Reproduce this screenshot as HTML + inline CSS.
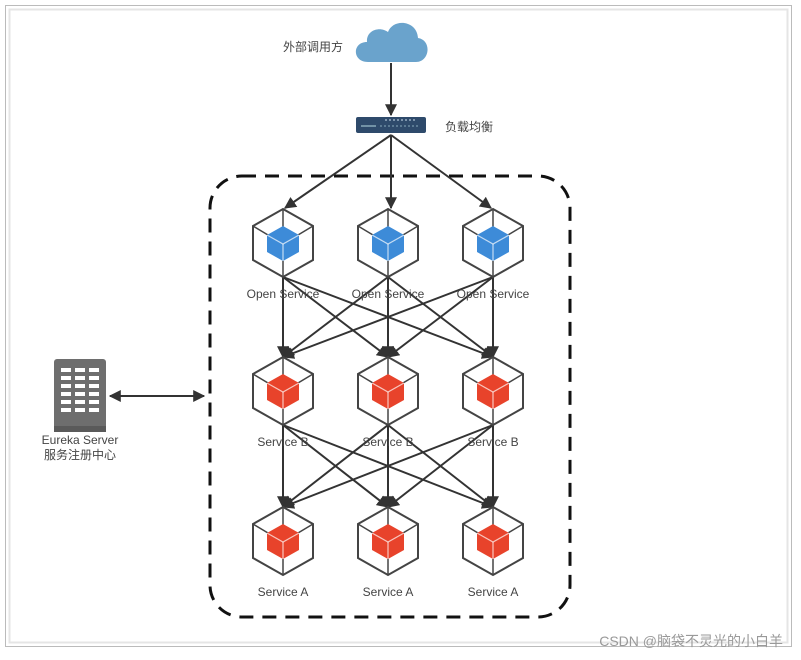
<!DOCTYPE html>
<html><head><meta charset="utf-8"><style>
html,body{margin:0;padding:0;background:#fff;width:801px;height:660px;overflow:hidden}
text{font-family:"Liberation Sans","Noto Sans CJK SC",sans-serif;fill:#444}
</style></head><body>
<svg width="801" height="660" viewBox="0 0 801 660" xmlns="http://www.w3.org/2000/svg">
<defs>
<marker id="ar" viewBox="0 0 10 10" refX="9" refY="5" markerWidth="12" markerHeight="12" markerUnits="userSpaceOnUse" orient="auto-start-reverse">
<path d="M0,0 L10,5 L0,10 z" fill="#333"/></marker>
<g id="hex">
<polygon points="0,-34 30,-17 30,17 0,34 -30,17 -30,-17" fill="#fff" stroke="#444" stroke-width="2"/>
<line x1="0" y1="-34" x2="0" y2="-15" stroke="#444" stroke-width="1.5"/>
<line x1="30" y1="-17" x2="15" y2="-8" stroke="#444" stroke-width="1.5"/>
<line x1="-30" y1="-17" x2="-15" y2="-8" stroke="#444" stroke-width="1.5"/>
<line x1="0" y1="34" x2="0" y2="15" stroke="#444" stroke-width="1.5"/>
</g>
<g id="cube">
<polygon points="0,-17 16,-8 16,9 0,18 -16,9 -16,-8"/>
<polyline points="-16,-8 0,1 16,-8" fill="none" stroke="#fff" stroke-width="1.2" stroke-opacity=".7"/>
<line x1="0" y1="1" x2="0" y2="18" stroke="#fff" stroke-width="1.2" stroke-opacity=".7"/>
</g>
</defs>
<rect x="5.5" y="5.5" width="786" height="641" fill="#fff" stroke="#bbb"/>
<rect x="9.5" y="9.5" width="778" height="633" fill="none" stroke="#e5e5e5" stroke-width="2"/>
<rect x="210" y="176" width="360" height="441" rx="32" fill="none" stroke="#111" stroke-width="3" stroke-dasharray="14,9"/>
<path d="M368,62 C352,62 352,42 367,42 C366,30 380,26 388,32 C393,18 417,20 418,38 C432,40 430,62 416,62 Z" fill="#6aa3cc"/>
<text x="283" y="51" font-size="12" fill="#333">外部调用方</text>
<line x1="391" y1="63" x2="391" y2="115" stroke="#333" stroke-width="2" marker-end="url(#ar)"/>
<rect x="356" y="117" width="70" height="16" rx="2" fill="#2e4a6b"/>
<line x1="361" y1="126" x2="376" y2="126" stroke="#8ab" stroke-width="1.5"/>
<line x1="380" y1="126" x2="420" y2="126" stroke="#8ab" stroke-width="1" stroke-dasharray="2,2"/>
<line x1="385" y1="120" x2="415" y2="120" stroke="#cde" stroke-width="1" stroke-dasharray="2,2"/>
<text x="445" y="131" font-size="12" fill="#333">负载均衡</text>
<g stroke="#333" stroke-width="2" marker-end="url(#ar)">
<line x1="391" y1="135" x2="285" y2="208"/>
<line x1="391" y1="135" x2="391" y2="208"/>
<line x1="391" y1="135" x2="491" y2="208"/>
</g>
<g stroke="#333" stroke-width="2" marker-end="url(#ar)">
<line x1="283" y1="277" x2="283" y2="357"/><line x1="283" y1="277" x2="388" y2="357"/><line x1="283" y1="277" x2="493" y2="357"/>
<line x1="388" y1="277" x2="283" y2="357"/><line x1="388" y1="277" x2="388" y2="357"/><line x1="388" y1="277" x2="493" y2="357"/>
<line x1="493" y1="277" x2="283" y2="357"/><line x1="493" y1="277" x2="388" y2="357"/><line x1="493" y1="277" x2="493" y2="357"/>
<line x1="283" y1="425" x2="283" y2="507"/><line x1="283" y1="425" x2="388" y2="507"/><line x1="283" y1="425" x2="493" y2="507"/>
<line x1="388" y1="425" x2="283" y2="507"/><line x1="388" y1="425" x2="388" y2="507"/><line x1="388" y1="425" x2="493" y2="507"/>
<line x1="493" y1="425" x2="283" y2="507"/><line x1="493" y1="425" x2="388" y2="507"/><line x1="493" y1="425" x2="493" y2="507"/>
</g>
<g transform="translate(283,243)"><use href="#hex"/><use href="#cube" fill="#3d8bd8"/></g>
<g transform="translate(388,243)"><use href="#hex"/><use href="#cube" fill="#3d8bd8"/></g>
<g transform="translate(493,243)"><use href="#hex"/><use href="#cube" fill="#3d8bd8"/></g>
<g transform="translate(283,391)"><use href="#hex"/><use href="#cube" fill="#e8432b"/></g>
<g transform="translate(388,391)"><use href="#hex"/><use href="#cube" fill="#e8432b"/></g>
<g transform="translate(493,391)"><use href="#hex"/><use href="#cube" fill="#e8432b"/></g>
<g transform="translate(283,541)"><use href="#hex"/><use href="#cube" fill="#e8432b"/></g>
<g transform="translate(388,541)"><use href="#hex"/><use href="#cube" fill="#e8432b"/></g>
<g transform="translate(493,541)"><use href="#hex"/><use href="#cube" fill="#e8432b"/></g>
<g font-size="12" text-anchor="middle">
<text x="283" y="298">Open Service</text><text x="388" y="298">Open Service</text><text x="493" y="298">Open Service</text>
<text x="283" y="446">Service B</text><text x="388" y="446">Service B</text><text x="493" y="446">Service B</text>
<text x="283" y="596">Service A</text><text x="388" y="596">Service A</text><text x="493" y="596">Service A</text>
</g>
<rect x="54" y="359" width="52" height="73" rx="3" fill="#6e6e6e"/>
<rect x="54" y="426" width="52" height="6" fill="#5a5a5a"/>
<g fill="#fff">
<rect x="61" y="368" width="10" height="4"/><rect x="75" y="368" width="10" height="4"/><rect x="89" y="368" width="10" height="4"/>
<rect x="61" y="376" width="10" height="4"/><rect x="75" y="376" width="10" height="4"/><rect x="89" y="376" width="10" height="4"/>
<rect x="61" y="384" width="10" height="4"/><rect x="75" y="384" width="10" height="4"/><rect x="89" y="384" width="10" height="4"/>
<rect x="61" y="392" width="10" height="4"/><rect x="75" y="392" width="10" height="4"/><rect x="89" y="392" width="10" height="4"/>
<rect x="61" y="400" width="10" height="4"/><rect x="75" y="400" width="10" height="4"/><rect x="89" y="400" width="10" height="4"/>
<rect x="61" y="408" width="10" height="4"/><rect x="75" y="408" width="10" height="4"/><rect x="89" y="408" width="10" height="4"/>
</g>
<line x1="110" y1="396" x2="204" y2="396" stroke="#333" stroke-width="2" marker-start="url(#ar)" marker-end="url(#ar)"/>
<text x="80" y="444" font-size="12" text-anchor="middle">Eureka Server</text>
<text x="80" y="459" font-size="12" text-anchor="middle">服务注册中心</text>
<text x="783" y="646" font-size="14" text-anchor="end" style="fill:#999">CSDN @脑袋不灵光的小白羊</text>
</svg>
</body></html>
